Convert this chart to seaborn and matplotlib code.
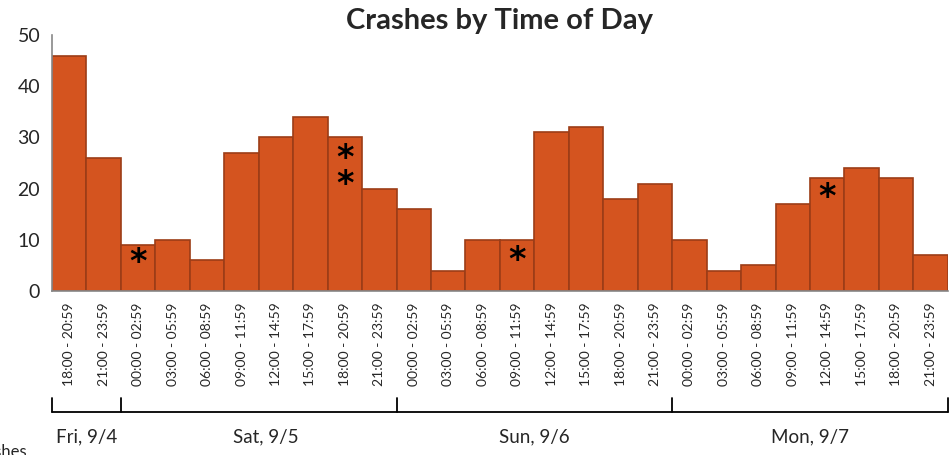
import matplotlib
matplotlib.use('Agg')
import matplotlib.pyplot as plt
import matplotlib.transforms as mtransforms
import seaborn as sns
import pandas as pd

# data
days = ['Fri, 9/4', 'Sat, 9/5', 'Sun, 9/6', 'Mon, 9/7']
slots_per_day = [2, 8, 8, 8]
time_slots = ['00:00 - 02:59', '03:00 - 05:59', '06:00 - 08:59', '09:00 - 11:59',
              '12:00 - 14:59', '15:00 - 17:59', '18:00 - 20:59', '21:00 - 23:59']
crashes = [46, 26,
           9, 10, 6, 27, 30, 34, 30, 20,
           16, 4, 10, 10, 31, 32, 18, 21,
           10, 4, 5, 17, 22, 24, 22, 7]
# (bar index, y position, marker text)
stars = [(2, 5.5, '*'), (8, 23.3, '*\n*'), (13, 5.9, '*'), (22, 18.3, '*')]

labels = time_slots[-2:] + time_slots * 3
df = pd.DataFrame({'slot': [f'{i}' for i in range(len(crashes))],
                   'label': labels, 'crashes': crashes})

sns.set_style('white')
plt.rcParams['font.family'] = ['Lato', 'DejaVu Sans']

fig = plt.figure(figsize=(9.53, 4.55), dpi=100)
ax = fig.add_axes([0.0546, 0.3604, 0.94, 0.5626])

sns.barplot(data=df, x='slot', y='crashes', color='#D4541F', saturation=1,
            width=1.0, edgecolor='#9C3D17', linewidth=1.2, ax=ax)

ax.set_xlim(-0.5, len(crashes) - 0.5)
ax.set_ylim(0, 50)
ax.set_yticks([0, 10, 20, 30, 40, 50])
ax.set_xticks(range(len(crashes)))
ax.set_xticklabels(df['label'], rotation=90, fontsize=10)
ax.set_xticks([i - 0.5 for i in range(len(crashes) + 1)], minor=True)
ax.tick_params(axis='x', which='major', length=0, pad=8)
ax.tick_params(axis='x', which='minor', length=4, color='#888888', width=1)
ax.tick_params(axis='y', length=5, color='#888888', width=1, labelsize=14)
ax.set_xlabel('')
ax.set_ylabel('')
sns.despine(ax=ax)
for s in ['left', 'bottom']:
    ax.spines[s].set_color('#888888')
    ax.spines[s].set_linewidth(1.2)

for i, y, t in stars:
    ax.text(i, y, t, ha='center', va='center', fontsize=24, fontweight='bold',
            color='black', family='DejaVu Sans', linespacing=0.75)

ax.set_title('Crashes by Time of Day', fontsize=21, fontweight='bold', pad=4)

# day brackets under the axis
trans = mtransforms.blended_transform_factory(ax.transData, fig.transFigure)
edges = [-0.5]
for n in slots_per_day:
    edges.append(edges[-1] + n)
y_line, y_top = 0.0945, 0.1253
ax.plot([edges[0], edges[-1]], [y_line, y_line], color='black', lw=1.3,
        transform=trans, clip_on=False)
for e in edges:
    ax.plot([e, e], [y_line, y_top], color='black', lw=1.3, transform=trans, clip_on=False)
for k, d in enumerate(days):
    mid = (edges[k] + edges[k + 1]) / 2
    if k == 1:
        mid += 0.2
    ax.text(mid, 0.04, d, ha='center', va='center', fontsize=13.5, transform=trans)

fig.text(27 / 953, -0.01, 'Crashes', ha='right', va='bottom', fontsize=12)

fig.savefig('out.png', dpi=100)
